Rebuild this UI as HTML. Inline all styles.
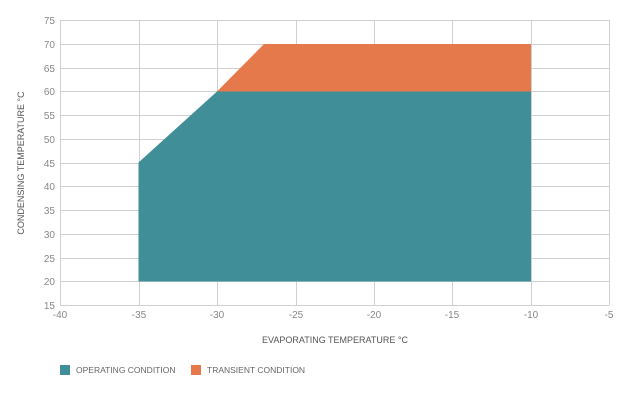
<!DOCTYPE html>
<html><head><style>body{margin:0;background:#fff}svg{display:block;font-family:"Liberation Sans",sans-serif}</style></head>
<body>
<svg width="629" height="405" viewBox="0 0 629 405">
<g stroke="#d0d0d0" stroke-width="1">
<line x1="60" y1="20.5" x2="609" y2="20.5"/><line x1="60" y1="44.5" x2="609" y2="44.5"/><line x1="60" y1="68.5" x2="609" y2="68.5"/><line x1="60" y1="91.5" x2="609" y2="91.5"/><line x1="60" y1="115.5" x2="609" y2="115.5"/><line x1="60" y1="139.5" x2="609" y2="139.5"/><line x1="60" y1="163.5" x2="609" y2="163.5"/><line x1="60" y1="186.5" x2="609" y2="186.5"/><line x1="60" y1="210.5" x2="609" y2="210.5"/><line x1="60" y1="234.5" x2="609" y2="234.5"/><line x1="60" y1="258.5" x2="609" y2="258.5"/><line x1="60" y1="281.5" x2="609" y2="281.5"/>
<line x1="60.5" y1="20" x2="60.5" y2="305"/><line x1="139.5" y1="20" x2="139.5" y2="305"/><line x1="217.5" y1="20" x2="217.5" y2="305"/><line x1="296.5" y1="20" x2="296.5" y2="305"/><line x1="374.5" y1="20" x2="374.5" y2="305"/><line x1="452.5" y1="20" x2="452.5" y2="305"/><line x1="531.5" y1="20" x2="531.5" y2="305"/><line x1="609.5" y1="20" x2="609.5" y2="305"/>
<line x1="60" y1="305.5" x2="609" y2="305.5"/>
</g>
<polygon points="217,91.5 264,44 531,44 531,91.5" fill="#e5794b"/>
<polygon points="138.5,162.5 217,91.5 531,91.5 531,281.5 138.5,281.5" fill="#408e97"/>
<g font-size="10" fill="#888" text-anchor="end">
<text x="55" y="24">75</text><text x="55" y="48">70</text><text x="55" y="72">65</text><text x="55" y="95">60</text><text x="55" y="119">55</text><text x="55" y="143">50</text><text x="55" y="167">45</text><text x="55" y="190">40</text><text x="55" y="214">35</text><text x="55" y="238">30</text><text x="55" y="262">25</text><text x="55" y="285">20</text><text x="55" y="309">15</text>
</g>
<g font-size="10" fill="#888" text-anchor="middle">
<text x="60" y="318">-40</text><text x="139" y="318">-35</text><text x="217" y="318">-30</text><text x="296" y="318">-25</text><text x="374" y="318">-20</text><text x="452" y="318">-15</text><text x="531" y="318">-10</text><text x="609" y="318">-5</text>
</g>
<text x="335" y="343" font-size="9" fill="#555" text-anchor="middle">EVAPORATING TEMPERATURE °C</text>
<text transform="translate(24,163) rotate(-90)" font-size="9" fill="#555" text-anchor="middle">CONDENSING TEMPERATURE °C</text>
<rect x="60" y="365" width="10" height="10" fill="#408e97"/>
<text x="76" y="373" font-size="8.5" fill="#666">OPERATING CONDITION</text>
<rect x="191" y="365" width="10" height="10" fill="#e5794b"/>
<text x="207" y="373" font-size="8.5" fill="#666">TRANSIENT CONDITION</text>
</svg>
</body></html>
